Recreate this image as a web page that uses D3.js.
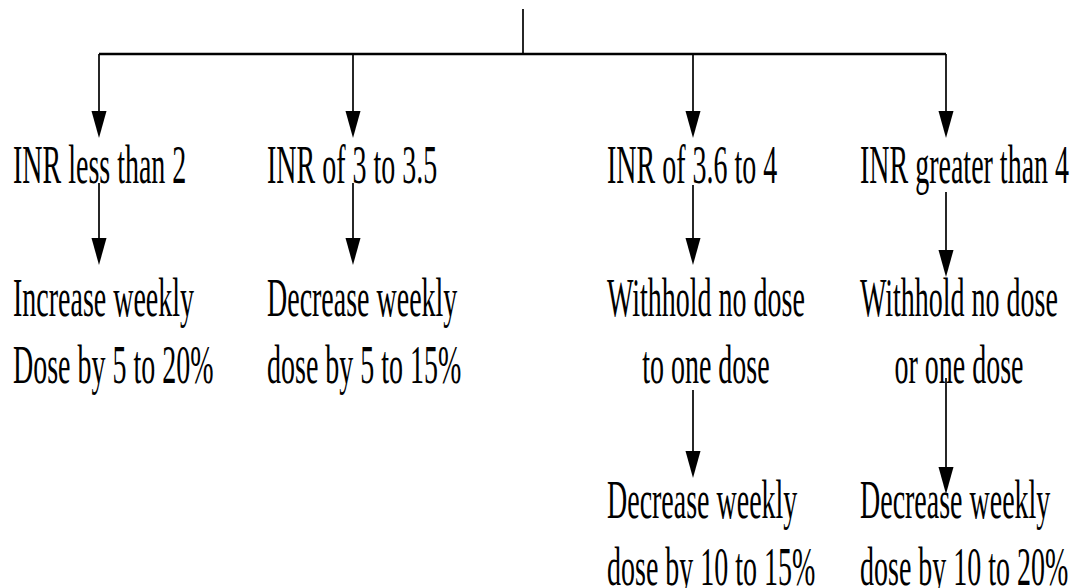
<!DOCTYPE html>
<html>
<head>
<meta charset="utf-8">
<script src="https://cdn.jsdelivr.net/npm/d3@7"></script>
<style>
  html, body { margin: 0; padding: 0; background: #fff; }
  svg { display: block; }
  text { font-family: "Liberation Serif", "Times New Roman", serif; fill: #000; }
</style>
</head>
<body>
<svg id="chart" width="1078" height="588"></svg>
<script>
// ---- data ----
const categories = ["INR less than 2", "INR of 3 to 3.5", "INR of 3.6 to 4", "INR greater than 4"];
const actionLine1 = ["Increase weekly", "Decrease weekly", "Withhold no dose", "Withhold no dose"];
const actionLine2 = ["Dose by 5 to 20%", "dose by 5 to 15%", "to one dose", "or one dose"];
const followLine1 = [null, null, "Decrease weekly", "Decrease weekly"];
const followLine2 = [null, null, "dose by 10 to 15%", "dose by 10 to 20%"];
const centeredAction = [false, false, true, true];

// ---- layout ----
const svg = d3.select("#chart");
const W = 1078, H = 588;
const fontSize = 28, stretch = 1.93, lineGap = 67;

const xArrow = d3.scaleOrdinal().domain(categories).range([99, 353, 693, 946]);
const textOffset = -86;
// level baselines
const yLevel = d3.scaleOrdinal().domain(["cat", "action", "follow"]).range([183, 316, 518]);

const g = svg.append("g");

function arrow(x, y0, y1) {
  g.append("line")
    .attr("x1", x).attr("x2", x)
    .attr("y1", y0).attr("y2", y1 - 20)
    .attr("stroke", "#000").attr("stroke-width", 1.7);
  const hw = 7.5, hl = 27;
  g.append("path")
    .attr("d", `M${x - hw},${y1 - hl}L${x + hw},${y1 - hl}L${x},${y1}Z`)
    .attr("fill", "#000");
}

function label(x, y, str, anchor) {
  return g.append("text")
    .attr("transform", `translate(${x},${y}) scale(1,${stretch})`)
    .attr("font-size", fontSize)
    .attr("text-anchor", anchor || "start")
    .text(str);
}

// top stem and bus
const busY = 54;
g.append("line").attr("x1", 523).attr("x2", 523).attr("y1", 9).attr("y2", busY)
  .attr("stroke", "#000").attr("stroke-width", 1.7);
g.append("line")
  .attr("x1", xArrow(categories[0])).attr("x2", xArrow(categories[categories.length - 1]))
  .attr("y1", busY).attr("y2", busY)
  .attr("stroke", "#000").attr("stroke-width", 2.6);

// arrow geometry per column for lower levels
const lvl2Start = [183, 183, 185, 192];
const lvl2Tip = [265, 265, 265, 277];
const lvl3Start = [null, null, 390, 378];
const lvl3Tip = [null, null, 478, 494];

categories.forEach((c, i) => {
  const x = xArrow(c);
  const left = x + textOffset;
  // level 1 arrow
  arrow(x, busY, 138);
  label(left, yLevel("cat"), c);
  // level 2 arrow
  arrow(x, lvl2Start[i], lvl2Tip[i]);
  const t1 = label(left, yLevel("action"), actionLine1[i]);
  if (centeredAction[i]) {
    const w = t1.node().getComputedTextLength();
    label(left + w / 2, yLevel("action") + lineGap, actionLine2[i], "middle");
  } else {
    label(left, yLevel("action") + lineGap, actionLine2[i]);
  }
  // level 3
  if (followLine1[i]) {
    arrow(x, lvl3Start[i], lvl3Tip[i]);
    label(left, yLevel("follow"), followLine1[i]);
    label(left, yLevel("follow") + lineGap, followLine2[i]);
  }
});
</script>
</body>
</html>
